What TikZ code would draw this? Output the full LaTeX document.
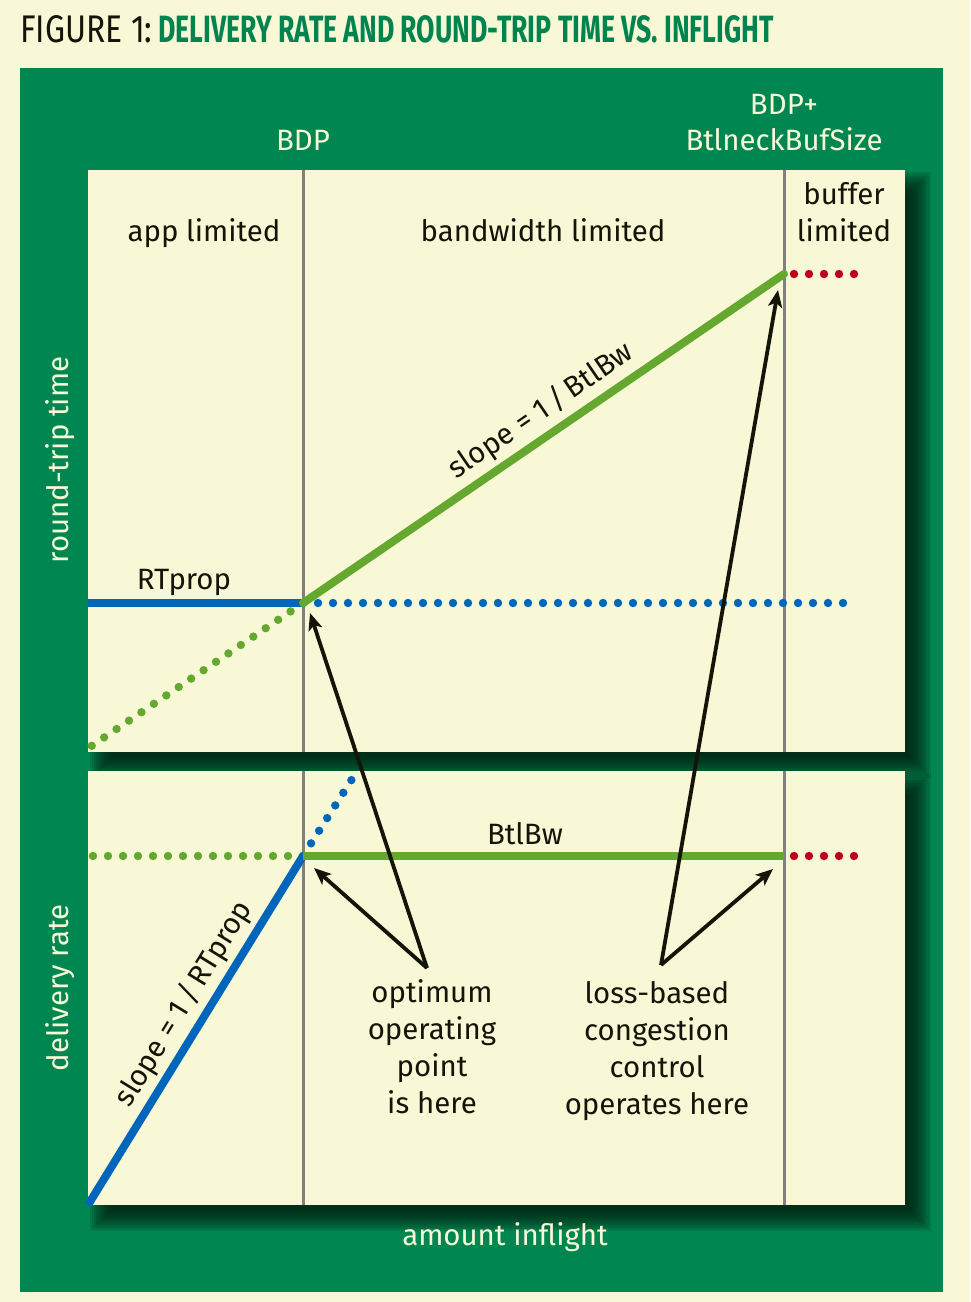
\documentclass[tikz,border=0pt]{standalone}
\usepackage{fontspec}
\setmainfont{Fira Sans}
\usepackage{graphicx}
\usetikzlibrary{arrows.meta}
\definecolor{cream}{RGB}{248,248,214}
\definecolor{framegreen}{RGB}{0,134,81}
\definecolor{shadowgreen}{RGB}{0,26,14}
\definecolor{curvegreen}{RGB}{101,168,48}
\definecolor{curveblue}{RGB}{0,102,187}
\definecolor{curvered}{RGB}{192,0,26}
\definecolor{inkdark}{RGB}{20,20,8}
\definecolor{titlegreen}{RGB}{0,132,79}

\begin{document}
\begin{tikzpicture}[x=0.5pt, y=-0.5pt,
        lbl/.style={font=\fontsize{14.7}{18.5}\selectfont, text=inkdark, inner sep=0pt},
        axislbl/.style={lbl, text=cream},
        bound/.style={draw=black!50, line width=1.5pt},
        curve/.style={line width=4pt},
        dotcurve/.style={line width=4.2pt, line cap=round, dash pattern=on 0pt off 7.5pt},
        pointer/.style={draw=inkdark, line width=1.9pt, -{Stealth[length=8.5pt, width=7pt, inset=2pt]}}
    ]
            \useasboundingbox[fill=cream] (0,0) rectangle (970,1302);
            \fill[framegreen] (20,68) rectangle (943,1292);
            \node[anchor=base west, inner sep=0pt] (title) at (20,42)
                {\resizebox{66pt}{13.5pt}{\color{inkdark}FIGURE 1:}\hspace{3pt}%
                 \resizebox{307.5pt}{13.5pt}{\color{titlegreen}\bfseries DELIVERY RATE AND ROUND-TRIP TIME VS. INFLIGHT}};

            \foreach \e in {-10,-8,...,12} {
                \fill[shadowgreen, opacity=0.12] (88+14-\e,170+14-\e) rectangle (905+14+\e,752+14+\e);
                \fill[shadowgreen, opacity=0.12] (88+14-\e,771+14-\e) rectangle (905+14+\e,1205+14+\e);
            }
            \fill[cream] (88,170) rectangle (905,752);
            \fill[cream] (88,771) rectangle (905,1205);
            \draw[bound] (303,170) -- (303,752) (784,170) -- (784,752)
                (303,771) -- (303,1205) (784,771) -- (784,1205);

            \coordinate (rtLeft) at (88,603);
            \coordinate (rtBDP) at (303,603);
            \coordinate (rtBuf) at (784,274);
            \coordinate (rtEnd) at (850,603);
            \coordinate (rtOrigin) at (87,749);
            \coordinate (rtLossA) at (794,274);
            \coordinate (rtLossB) at (856,274);
            \coordinate (drOrigin) at (88,1205);
            \coordinate (drBDP) at (303,856);
            \coordinate (drBuf) at (784,856);
            \coordinate (drLeft) at (86,856);
            \coordinate (drUp) at (354,776);
            \coordinate (drLossA) at (794,856);
            \coordinate (drLossB) at (856,856);

            \draw[dotcurve, curveblue] (rtBDP) -- (rtEnd);
            \draw[dotcurve, curvegreen] (rtBDP) -- (rtOrigin);
            \draw[dotcurve, curvered] (rtLossA) -- (rtLossB);
            \draw[curve, curveblue] (rtLeft) -- (rtBDP);
            \draw[curve, curvegreen, line cap=round] (rtBDP) -- (rtBuf);

            \draw[dotcurve, curvegreen] (drBDP) -- (drLeft);
            \draw[dotcurve, curveblue] (drBDP) -- (drUp);
            \draw[dotcurve, curvered] (drLossA) -- (drLossB);
            \draw[curve, curveblue] (drOrigin) -- (drBDP);
            \draw[curve, curvegreen] (drBDP) -- (drBuf);

            \node[axislbl, anchor=base] (bdp) at (303,150) {BDP};
            \node[axislbl, anchor=base] (bdpplus) at (784,114) {BDP+};
            \node[axislbl, anchor=base] (bufsize) at (784,150) {BtlneckBufSize};
            \node[lbl, anchor=base] (applim) at (204,241) {app limited};
            \node[lbl, anchor=base] (bwlim) at (543,241) {bandwidth limited};
            \node[lbl, anchor=base, align=center] (buflim) at (844,241) {buffer\\limited};
            \node[lbl, anchor=base] (rtprop) at (184,589) {RTprop};
            \node[lbl, anchor=base] (btlbw) at (525,844) {BtlBw};
            \node[lbl, rotate=34.4] (slopebw) at (541,411) {slope = 1\,/\,BtlBw};
            \node[lbl, rotate=58.4] (sloprt) at (184,1004) {slope = 1\,/\,RTprop};
            \node[lbl, anchor=base, align=center] (optimum) at (432,1113) {optimum\\operating\\point\\is here};
            \node[lbl, anchor=base, align=center] (lossbased) at (657,1114) {loss-based\\congestion\\control\\operates here};
            \node[axislbl, rotate=90] (rtt) at (60,460) {round-trip time};
            \node[axislbl, rotate=90] (rate) at (60,988) {delivery rate};
            \node[axislbl, anchor=base] (inflight) at (505,1245) {amount inflight};

            \coordinate (optTail) at (427,968);
            \coordinate (lossTail) at (661,965);
            \coordinate (optTipR) at (310,613);
            \coordinate (optTipD) at (314,868);
            \coordinate (lossTipR) at (778,290);
            \coordinate (lossTipD) at (773,869);
            \draw[pointer] (optTail) -- (optTipR);
            \draw[pointer] (optTail) -- (optTipD);
            \draw[pointer] (lossTail) -- (lossTipR);
            \draw[pointer] (lossTail) -- (lossTipD);
        \end{tikzpicture}
\end{document}
